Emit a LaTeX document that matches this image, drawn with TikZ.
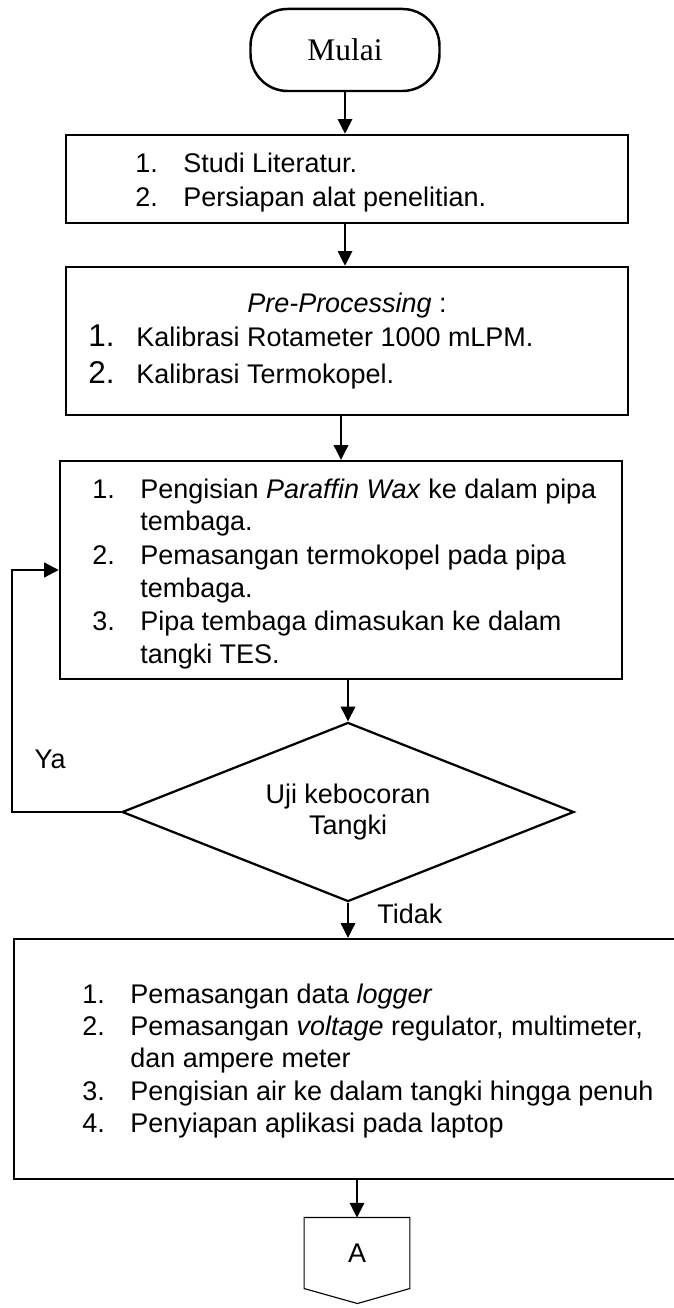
\documentclass[tikz,border=0pt]{standalone}
\usepackage{fontspec}
\setmainfont{Liberation Sans}
\newfontfamily\serifmulai{Liberation Serif}
\usetikzlibrary{arrows.meta,shapes.geometric}
\newcommand{\nomor}[1]{\makebox[21.3pt][l]{#1}}

\begin{document}
\begin{tikzpicture}[x=0.445pt,y=-0.445pt,
    box/.style={draw,line width=1.1pt,inner sep=0pt,minimum width=250.1pt},
    decision/.style={draw,diamond,line width=1pt,inner sep=0pt,aspect=2.5,minimum width=201.1pt,minimum height=79.7pt,align=center,font=\fontsize{12}{13.4}\selectfont},
    baris/.style={anchor=base west,inner sep=0pt,font=\fontsize{12}{14}\selectfont},
    arr/.style={-{Triangle[length=6.5pt,width=6.5pt]},line width=0.5pt}]
            \useasboundingbox (0,0) rectangle (674,1308);
            % terminal
            \node[draw,line width=1.1pt,rounded corners=16.5pt,minimum width=84.1pt,minimum height=36.5pt,font=\serifmulai\fontsize{14}{16}\selectfont] (start) at (345,50) {Mulai};
            % box 1
            \node[box,minimum height=39.2pt] (box1) at (347,179) {};
            \node[baris] (b1a) at (135,173) {\nomor{1.}Studi Literatur.};
            \node[baris] (b1b) at (135,207) {\nomor{2.}Persiapan alat penelitian.};
            % box 2
            \node[box,minimum height=65.9pt] (box2) at (347,341) {};
            \node[baris,anchor=base] (pre) at (347,313) {\textit{Pre-Processing} :};
            \node[baris] (b2a) at (88,347) {\nomor{\fontsize{14}{14}\selectfont 1.}Kalibrasi Rotameter 1000 mLPM.};
            \node[baris] (b2b) at (88,384) {\nomor{\fontsize{14}{14}\selectfont 2.}Kalibrasi Termokopel.};
            % box 3
            \node[box,minimum height=97pt] (box3) at (341,570) {};
            \node[baris] (b3a) at (92,498) {\nomor{1.}Pengisian \textit{Paraffin Wax} ke dalam pipa};
            \node[baris] (b3b) at (92,531) {\nomor{}tembaga.};
            \node[baris] (b3c) at (92,564) {\nomor{2.}Pemasangan termokopel pada pipa};
            \node[baris] (b3d) at (92,597) {\nomor{}tembaga.};
            \node[baris] (b3e) at (92,630) {\nomor{3.}Pipa tembaga dimasukan ke dalam};
            \node[baris] (b3f) at (92,663) {\nomor{}tangki TES.};
            % decision
            \node[decision] (cek) at (348,812) {Uji kebocoran\\Tangki};
            \node[baris,anchor=base] (ya) at (50,768) {Ya};
            \node[baris] (tidak) at (377,923) {Tidak};
            % box 4
            \node[box,minimum width=296.4pt,minimum height=106.8pt] (box4) at (347,1059) {};
            \node[baris] (b4a) at (82,1003) {\nomor{1.}Pemasangan data \textit{logger}};
            \node[baris] (b4b) at (82,1035) {\nomor{2.}Pemasangan \textit{voltage} regulator, multimeter,};
            \node[baris] (b4c) at (82,1067) {\nomor{}dan ampere meter};
            \node[baris] (b4d) at (82,1100) {\nomor{3.}Pengisian air ke dalam tangki hingga penuh};
            \node[baris] (b4e) at (82,1132) {\nomor{4.}Penyiapan aplikasi pada laptop};
            % off-page connector
            \node[inner sep=0pt,minimum width=46.7pt,minimum height=31.2pt,font=\fontsize{12}{14}\selectfont] (conA) at (357,1253) {A};
            \draw[line width=0.5pt] (conA.north west) -- (conA.north east) -- (conA.south east) -- ++(-52.5,15) -- (conA.south west) -- cycle;
            % arrows
            \draw[arr] (start.south) -- (start.south |- box1.north);
            \draw[arr] (start.south |- box1.south) -- (start.south |- box2.north);
            \draw[arr] (box3.north |- box2.south) -- (box3.north);
            \draw[arr] (cek.north |- box3.south) -- (cek.north);
            \draw[arr] (cek.south) -- (cek.south |- box4.north);
            \draw[arr] (conA.north |- box4.south) -- (conA.north);
            \draw[-{Triangle[length=6.5pt,width=6.5pt]},line width=1pt] (cek.west) -- ++(-109,0) |- (box3.west);
\end{tikzpicture}
\end{document}
